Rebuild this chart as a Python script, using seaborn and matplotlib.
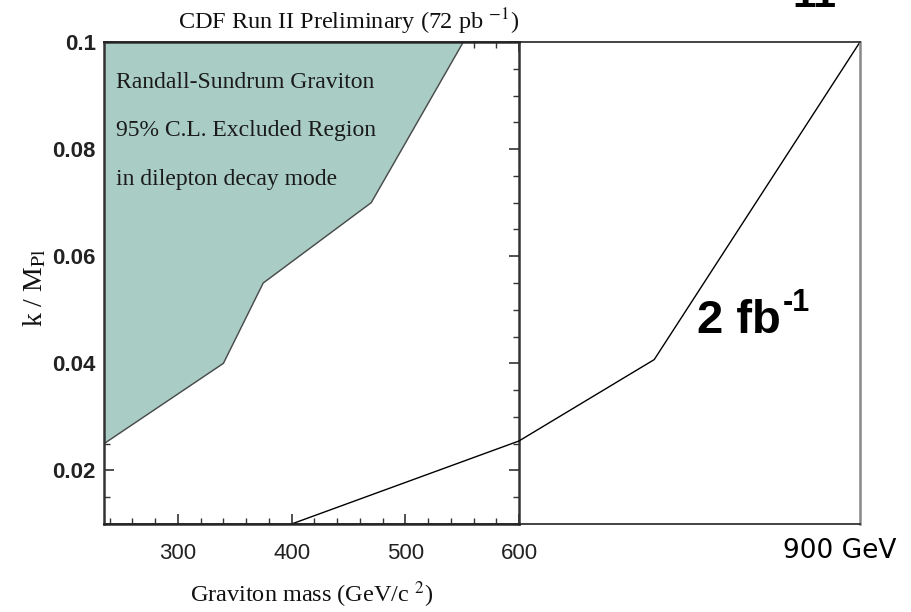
import matplotlib
matplotlib.use("Agg")
import matplotlib.pyplot as plt
import seaborn as sns
import pandas as pd
from matplotlib.ticker import MultipleLocator, FixedLocator, FixedFormatter

# ---- data ----
excl_mass = [235, 340, 375, 470, 551]
excl_k = [0.025, 0.040, 0.055, 0.070, 0.100]
proj_mass = [400, 600, 719, 900]
proj_k = [0.010, 0.0255, 0.0407, 0.100]
xtick_vals = [300, 400, 500, 600]
xtick_labels = ["300", "400", "500", "600"]
ytick_vals = [0.02, 0.04, 0.06, 0.08, 0.1]
ytick_labels = ["0.02", "0.04", "0.06", "0.08", "0.1"]
inner_lines = ["Randall-Sundrum Graviton", "95% C.L. Excluded Region",
               "in dilepton decay mode"]
title_text = r"CDF Run II Preliminary (72 pb $^{-1}$)"
lumi_main = "2 fb"
lumi_sup = "-1"
end_label = "900 GeV"

sns.set_theme(style="white")
plt.rcParams["font.family"] = ["Liberation Serif", "DejaVu Sans"]
plt.rcParams["text.color"] = "#111111"
plt.rcParams["xtick.color"] = "#222222"
plt.rcParams["ytick.color"] = "#222222"
plt.rcParams["axes.labelcolor"] = "#111111"

fig = plt.figure(figsize=(9.11, 6.12), dpi=100)
W, H = 911, 612
l, r, b, t = 104, 519, 524, 42
r2 = 860
ax1 = fig.add_axes([l / W, 1 - b / H, (r - l) / W, (b - t) / H])
ax2 = fig.add_axes([l / W, 1 - b / H, (r2 - l) / W, (b - t) / H])
ax1.set_zorder(1)
ax2.set_zorder(2)
ax2.patch.set_alpha(0)

# ---- left (CDF) panel ----
ax1.set_xlim(235, 600)
ax1.set_ylim(0.01, 0.1)
ax1.fill_between(excl_mass, excl_k, 0.1, color="#a9cdc4", lw=0)
sns.lineplot(x=excl_mass, y=excl_k, ax=ax1, color="#4a4a4a", lw=1.0,
             estimator=None, sort=False)

ax1.xaxis.set_major_locator(FixedLocator(xtick_vals))
ax1.xaxis.set_major_formatter(FixedFormatter(xtick_labels))
ax1.xaxis.set_minor_locator(MultipleLocator(20))
ax1.yaxis.set_major_locator(FixedLocator(ytick_vals))
ax1.yaxis.set_major_formatter(FixedFormatter(ytick_labels))
ax1.yaxis.set_minor_locator(MultipleLocator(0.005))
ax1.tick_params(which="both", direction="in", top=True, right=True,
                bottom=True, left=True, color="#333333")
ax1.tick_params(which="major", length=7, width=1.2)
ax1.tick_params(which="minor", length=4, width=1.0)
ax1.tick_params(axis="x", which="major", pad=14, labelsize=16)
ax1.tick_params(axis="y", which="major", pad=6, labelsize=16)
for lab in ax1.get_xticklabels():
    lab.set_family(["Liberation Sans", "DejaVu Sans"])
for lab in ax1.get_yticklabels():
    lab.set_family(["Liberation Sans", "DejaVu Sans"])
    lab.set_fontweight("bold")
for s in ax1.spines.values():
    s.set_color("#333333")
    s.set_linewidth(1.8)

ax1.set_xlabel(r"Graviton mass (GeV/c $^{2}$)", fontsize=17.5, math_fontfamily="stix")
ax1.xaxis.set_label_coords(0.5, -0.147)
ax1.xaxis.label.set_va("center")
ax1.set_ylabel(r"k / M$_{\rm Pl}$", fontsize=20, math_fontfamily="stix")
ax1.yaxis.set_label_coords(-0.166, 0.49)
ax1.yaxis.label.set_va("center")

ax1.text(0.588, 1.041, title_text, transform=ax1.transAxes, ha="center",
         va="center", fontsize=17.5, math_fontfamily="stix")
for txt, yy in zip(inner_lines, [0.917, 0.8174, 0.7137]):
    ax1.text(0.028, yy, txt, transform=ax1.transAxes, ha="left", va="center",
             fontsize=17, color="#1a1a1a")

# ---- extended projection box ----
ax2.set_xlim(235, 900)
ax2.set_ylim(0.01, 0.1)
ax2.set_xticks([])
ax2.set_yticks([])
ax2.spines["left"].set_visible(False)
ax2.spines["top"].set_color("#222222")
ax2.spines["top"].set_linewidth(1.2)
ax2.spines["bottom"].set_color("#222222")
ax2.spines["bottom"].set_linewidth(1.2)
ax2.spines["right"].set_color("#888888")
ax2.spines["right"].set_linewidth(1.8)
sns.lineplot(x=proj_mass, y=proj_k, ax=ax2, color="black", lw=1.0,
             estimator=None, sort=False)
ax2.set_xlabel("")
ax2.set_ylabel("")

sans = ["Liberation Sans", "DejaVu Sans"]
fig.text(697 / W, 1 - 333 / H, lumi_main, ha="left", va="baseline",
         fontsize=34, fontweight="bold", family=sans, color="black")
fig.text(783 / W, 1 - 311 / H, lumi_sup, ha="left", va="baseline",
         fontsize=22, fontweight="bold", family=sans, color="black")
fig.text(840 / W, 1 - 551 / H, end_label, ha="center", va="center",
         fontsize=19, family=["DejaVu Sans"], color="black")
fig.text(814 / W, 1 - 7 / H, "11", ha="center", va="baseline",
         fontsize=30, fontweight="bold", family=sans, color="black")

fig.savefig("out.png", dpi=100, facecolor="white")
